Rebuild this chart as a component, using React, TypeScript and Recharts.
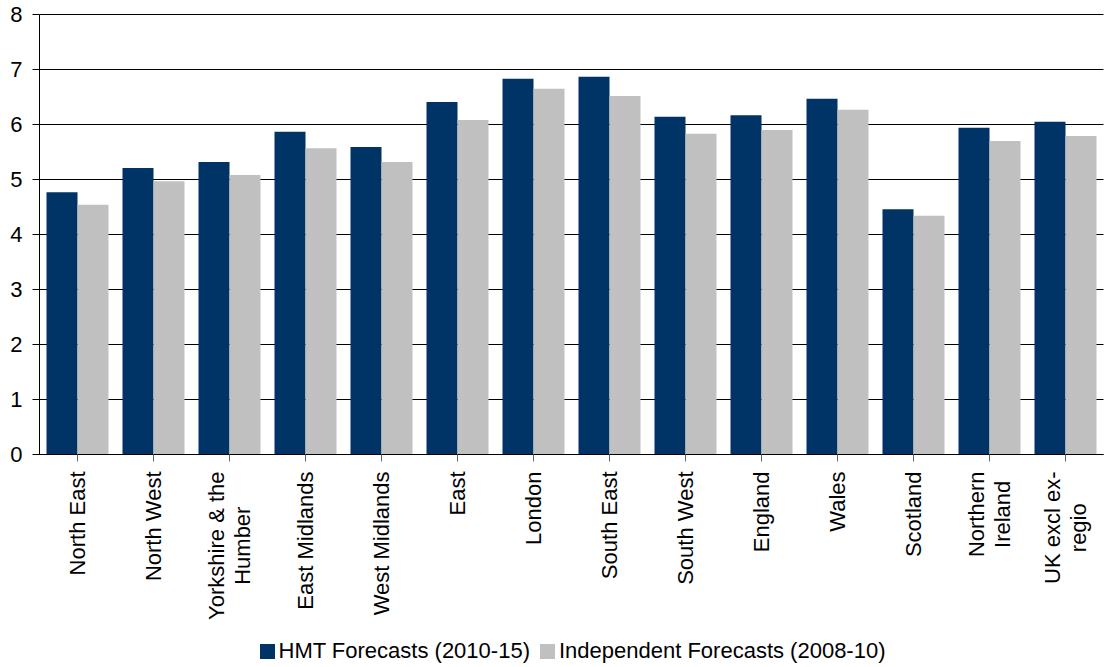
import { BarChart, Bar, XAxis, YAxis, CartesianGrid, Legend } from 'recharts'

const categories = [
  'North East',
  'North West',
  'Yorkshire & the\nHumber',
  'East Midlands',
  'West Midlands',
  'East',
  'London',
  'South East',
  'South West',
  'England',
  'Wales',
  'Scotland',
  'Northern\nIreland',
  'UK excl ex-\nregio',
]

const hmtForecasts = [4.77, 5.21, 5.32, 5.87, 5.59, 6.41, 6.83, 6.87, 6.14, 6.17, 6.47, 4.46, 5.94, 6.05]
const independentForecasts = [4.54, 4.97, 5.08, 5.57, 5.32, 6.08, 6.65, 6.52, 5.83, 5.9, 6.27, 4.34, 5.7, 5.79]

const yTicks = [0, 1, 2, 3, 4, 5, 6, 7, 8]

const seriesNames = ['HMT Forecasts (2010-15)', 'Independent Forecasts (2008-10)']
const colors = ['#003366', '#C0C0C0']

const data = categories.map((name, i) => ({
  name,
  hmt: hmtForecasts[i],
  ind: independentForecasts[i],
}))

const FONT = '"Liberation Sans", Arial, sans-serif'
const FONT_SIZE = 22

let ctx: CanvasRenderingContext2D | null = null
function measure(s: string) {
  if (!ctx) {
    ctx = document.createElement('canvas').getContext('2d')
  }
  if (!ctx) return s.length * FONT_SIZE * 0.5
  ctx.font = `${FONT_SIZE}px "Liberation Sans", Arial`
  return ctx.measureText(s).width
}

function RotatedTick(props: any) {
  const { x, y, payload } = props
  const lines = String(payload.value).split('\n')
  const maxW = Math.max(...lines.map(measure))
  const lineH = 26
  return (
    <g transform={`translate(${x},${y + 8}) rotate(-90)`}>
      {lines.map((line, i) => (
        <text
          key={i}
          x={-maxW / 2}
          y={(i - (lines.length - 1) / 2) * lineH}
          dy="0.36em"
          textAnchor="middle"
          fontSize={FONT_SIZE}
          fontFamily={FONT}
          fill="#000"
        >
          {line}
        </text>
      ))}
    </g>
  )
}

function LegendContent() {
  return (
    <div
      style={{
        display: 'flex',
        justifyContent: 'center',
        alignItems: 'center',
        paddingLeft: 40,
        fontFamily: FONT,
        fontSize: FONT_SIZE,
        color: '#000',
        lineHeight: '28px',
      }}
    >
      {seriesNames.map((n, i) => (
        <div key={n} style={{ display: 'flex', alignItems: 'center', marginRight: i === 0 ? 10 : 0 }}>
          <span style={{ width: 15, height: 15, background: colors[i], display: 'inline-block', marginRight: 4 }} />
          <span>{n}</span>
        </div>
      ))}
    </div>
  )
}

export default function App() {
  return (
    <div style={{ position: 'absolute', left: 0, top: 0, background: '#fff' }}>
      <BarChart
        width={1105}
        height={667}
        data={data}
        margin={{ top: 14.5, right: 1.5, left: 0, bottom: 0 }}
        barCategoryGap={7}
        barGap={0}
      >
        <CartesianGrid vertical={false} stroke="#000" />
        <XAxis
          dataKey="name"
          interval={0}
          height={184.5}
          tick={<RotatedTick />}
          tickSize={7}
          axisLine={{ stroke: '#000' }}
          tickLine={{ stroke: '#666' }}
        />
        <YAxis
          domain={[0, 8]}
          ticks={yTicks}
          width={39.5}
          tickSize={7}
          tickMargin={10}
          tick={{ fontSize: FONT_SIZE, fontFamily: FONT, fill: '#000' }}
          axisLine={{ stroke: '#000' }}
          tickLine={{ stroke: '#000' }}
        />
        <Legend
          content={<LegendContent />}
          wrapperStyle={{ position: 'absolute', top: 637, left: 0, width: 1105, height: 28 }}
        />
        <Bar dataKey="hmt" name={seriesNames[0]} fill={colors[0]} isAnimationActive={false} />
        <Bar dataKey="ind" name={seriesNames[1]} fill={colors[1]} isAnimationActive={false} />
      </BarChart>
    </div>
  )
}
